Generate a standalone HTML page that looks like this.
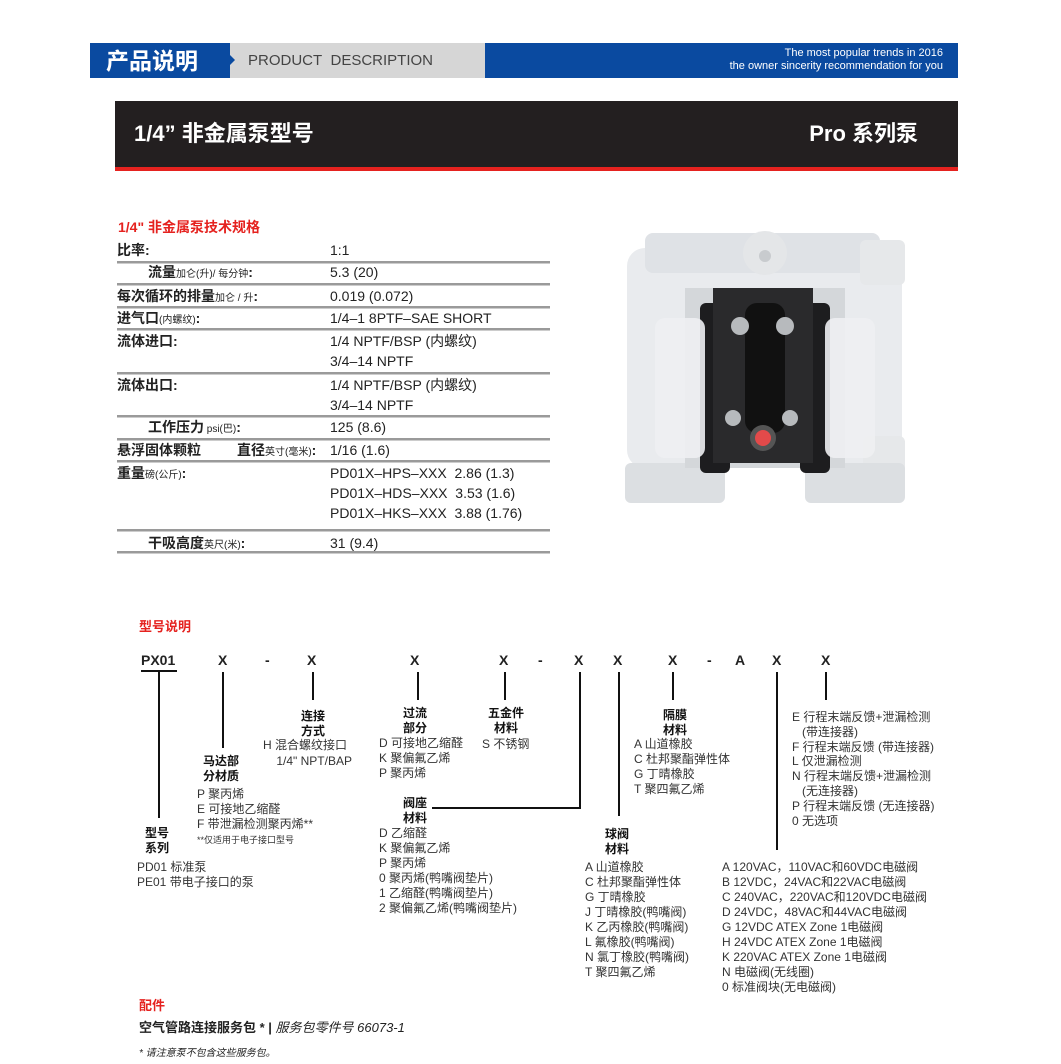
<!DOCTYPE html>
<html><head><meta charset="utf-8"><style>
*{margin:0;padding:0;box-sizing:border-box}
body{width:1061px;height:1064px;background:#fff;position:relative;overflow:hidden;font-family:"Liberation Sans","Noto Sans CJK SC",sans-serif;color:#222}
.a{position:absolute}
.t{position:absolute;white-space:nowrap;line-height:16px;font-size:12px;color:#333}
.b{font-weight:bold;color:#111}
.s{font-size:14px;color:#222}
.hl{position:absolute;left:117px;width:433px;height:3px;border-top:2px solid #9a9a9a;border-bottom:1px solid #ccc}
.v{position:absolute;width:2px;background:#111}
.x{position:absolute;font-size:14px;font-weight:bold;color:#222;line-height:16px}
.c{text-align:center;width:60px;font-size:12px;font-weight:bold;color:#111;line-height:15px}
small{font-size:10px;font-weight:normal}
</style></head><body>
<!-- header -->
<div class="a" style="left:90px;top:43px;width:140px;height:35px;background:#0a4aa0"></div>
<div class="t" style="left:106px;top:46px;line-height:30px;font-size:23px;font-weight:bold;color:#fff">产品说明</div>
<div class="a" style="left:230px;top:43px;width:255px;height:35px;background:#d6d6d6"></div>
<div class="a" style="left:230px;top:55px;width:0;height:0;border-top:5px solid transparent;border-bottom:5px solid transparent;border-left:5px solid #0a4aa0"></div>
<div class="t" style="left:248px;top:53px;font-size:15px;color:#444">PRODUCT&nbsp; DESCRIPTION</div>
<div class="a" style="left:485px;top:43px;width:473px;height:35px;background:#0a4aa0"></div>
<div class="t" style="right:118px;top:47px;font-size:11px;line-height:13px;color:#fff;text-align:right">The most popular trends in 2016<br>the owner sincerity recommendation for you</div>
<!-- title bar -->
<div class="a" style="left:115px;top:101px;width:843px;height:66px;background:#231f20"></div>
<div class="a" style="left:115px;top:167px;width:843px;height:4px;background:#e5221f"></div>
<div class="t" style="left:134px;top:120px;line-height:28px;font-size:22px;font-weight:bold;color:#fff">1/4” 非金属泵型号</div>
<div class="t" style="right:143px;top:120px;line-height:28px;font-size:22px;font-weight:bold;color:#fff">Pro 系列泵</div>
<!-- specs -->
<div class="t" style="left:118px;top:219px;font-size:14px;font-weight:bold;color:#e5221f">1/4" 非金属泵技术规格</div>
<div class="t s b" style="left:117px;top:242px">比率:</div><div class="t s" style="left:330px;top:242px">1:1</div>
<div class="hl" style="top:261px"></div>
<div class="t s b" style="left:148px;top:264px">流量<small>加仑(升)/ 每分钟</small>:</div><div class="t s" style="left:330px;top:264px">5.3 (20)</div>
<div class="hl" style="top:283px"></div>
<div class="t s b" style="left:117px;top:288px">每次循环的排量<small>加仑 / 升</small>:</div><div class="t s" style="left:330px;top:288px">0.019 (0.072)</div>
<div class="hl" style="top:306px"></div>
<div class="t s b" style="left:117px;top:310px">进气口<small>(内螺纹)</small>:</div><div class="t s" style="left:330px;top:310px">1/4–1 8PTF–SAE SHORT</div>
<div class="hl" style="top:328px"></div>
<div class="t s b" style="left:117px;top:333px">流体进口:</div><div class="t s" style="left:330px;top:333px;line-height:20px;top:331px">1/4 NPTF/BSP (内螺纹)<br>3/4–14 NPTF</div>
<div class="hl" style="top:372px"></div>
<div class="t s b" style="left:117px;top:377px">流体出口:</div><div class="t s" style="left:330px;line-height:20px;top:375px">1/4 NPTF/BSP (内螺纹)<br>3/4–14 NPTF</div>
<div class="hl" style="top:415px"></div>
<div class="t s b" style="left:148px;top:419px">工作压力<small> psi(巴)</small>:</div><div class="t s" style="left:330px;top:419px">125 (8.6)</div>
<div class="hl" style="top:438px"></div>
<div class="t s b" style="left:117px;top:442px">悬浮固体颗粒</div><div class="t s b" style="left:237px;top:442px">直径<small>英寸(毫米)</small>:</div><div class="t s" style="left:330px;top:442px">1/16 (1.6)</div>
<div class="hl" style="top:460px"></div>
<div class="t s b" style="left:117px;top:465px">重量<small>磅(公斤)</small>:</div><div class="t s" style="left:330px;top:463px;line-height:20px">PD01X–HPS–XXX&nbsp; 2.86 (1.3)<br>PD01X–HDS–XXX&nbsp; 3.53 (1.6)<br>PD01X–HKS–XXX&nbsp; 3.88 (1.76)</div>
<div class="hl" style="top:529px"></div>
<div class="t s b" style="left:148px;top:535px">干吸高度<small>英尺(米)</small>:</div><div class="t s" style="left:330px;top:535px">31 (9.4)</div>
<div class="hl" style="top:551px"></div>
<!-- pump image -->
<svg class="a" style="left:615px;top:228px" width="295" height="278" viewBox="0 0 295 278">
<rect x="12" y="20" width="275" height="220" rx="18" fill="#e9ebee"/>
<rect x="30" y="5" width="235" height="40" rx="8" fill="#dfe2e6"/>
<rect x="245" y="12" width="45" height="45" rx="6" fill="#e6e8ea"/>
<rect x="248" y="208" width="42" height="48" rx="6" fill="#e6e8ea"/>
<rect x="10" y="235" width="100" height="40" rx="6" fill="#dcdfe2"/>
<rect x="190" y="235" width="100" height="40" rx="6" fill="#dcdfe2"/>
<ellipse cx="150" cy="25" rx="22" ry="22" fill="#e4e6e8"/>
<circle cx="150" cy="28" r="6" fill="#c8cbce"/>
<rect x="70" y="60" width="160" height="180" fill="#d4d7da"/>
<rect x="85" y="75" width="30" height="170" rx="6" fill="#1d1d1f"/>
<rect x="185" y="75" width="30" height="170" rx="6" fill="#1d1d1f"/>
<rect x="98" y="60" width="100" height="175" fill="#2a2a2c"/>
<rect x="130" y="75" width="40" height="130" rx="12" fill="#111"/>
<circle cx="125" cy="98" r="9" fill="#b7babd"/><circle cx="170" cy="98" r="9" fill="#b7babd"/>
<circle cx="118" cy="190" r="8" fill="#b7babd"/><circle cx="175" cy="190" r="8" fill="#b7babd"/>
<circle cx="148" cy="210" r="13" fill="#555"/><circle cx="148" cy="210" r="8" fill="#e34a4a"/>
<rect x="40" y="90" width="50" height="140" rx="10" fill="#eef0f2" opacity=".9"/>
<rect x="210" y="90" width="50" height="140" rx="10" fill="#eef0f2" opacity=".9"/>
</svg>
<!-- model -->
<div class="t" style="left:139px;top:619px;font-size:13px;font-weight:bold;color:#e5221f">型号说明</div>
<div class="x" style="left:141px;top:652px">PX01</div>
<div class="a" style="left:141px;top:670px;width:36px;height:2px;background:#111"></div>
<div class="x" style="left:218px;top:652px">X</div>
<div class="x" style="left:265px;top:652px">-</div>
<div class="x" style="left:307px;top:652px">X</div>
<div class="x" style="left:410px;top:652px">X</div>
<div class="x" style="left:499px;top:652px">X</div>
<div class="x" style="left:538px;top:652px">-</div>
<div class="x" style="left:574px;top:652px">X</div>
<div class="x" style="left:613px;top:652px">X</div>
<div class="x" style="left:668px;top:652px">X</div>
<div class="x" style="left:707px;top:652px">-</div>
<div class="x" style="left:735px;top:652px">A</div>
<div class="x" style="left:772px;top:652px">X</div>
<div class="x" style="left:821px;top:652px">X</div>
<div class="v" style="left:158px;top:672px;height:146px"></div>
<div class="v" style="left:222px;top:672px;height:76px"></div>
<div class="v" style="left:312px;top:672px;height:28px"></div>
<div class="v" style="left:417px;top:672px;height:28px"></div>
<div class="v" style="left:504px;top:672px;height:28px"></div>
<div class="v" style="left:579px;top:672px;height:137px"></div>
<div class="a" style="left:432px;top:807px;width:149px;height:2px;background:#111"></div>
<div class="v" style="left:618px;top:672px;height:144px"></div>
<div class="v" style="left:672px;top:672px;height:28px"></div>
<div class="v" style="left:776px;top:672px;height:178px"></div>
<div class="v" style="left:825px;top:672px;height:28px"></div>
<div class="t c" style="left:283px;top:709px">连接<br>方式</div>
<div class="t" style="left:263px;top:737px">H 混合螺纹接口<br>&nbsp;&nbsp;&nbsp;&nbsp;1/4" NPT/BAP</div>
<div class="t c" style="left:191px;top:754px">马达部<br>分材质</div>
<div class="t" style="left:197px;top:787px;line-height:15px">P 聚丙烯<br>E 可接地乙缩醛<br>F 带泄漏检测聚丙烯**</div>
<div class="t" style="left:197px;top:833px;font-size:9px;line-height:14px">**仅适用于电子接口型号</div>
<div class="t c" style="left:127px;top:826px">型号<br>系列</div>
<div class="t" style="left:137px;top:860px;line-height:15px">PD01 标准泵<br>PE01 带电子接口的泵</div>
<div class="t c" style="left:385px;top:706px">过流<br>部分</div>
<div class="t" style="left:379px;top:736px;line-height:15px">D 可接地乙缩醛<br>K 聚偏氟乙烯<br>P 聚丙烯</div>
<div class="t c" style="left:476px;top:706px">五金件<br>材料</div>
<div class="t" style="left:482px;top:736px">S 不锈钢</div>
<div class="t c" style="left:385px;top:796px">阀座<br>材料</div>
<div class="t" style="left:379px;top:826px;line-height:15px">D 乙缩醛<br>K 聚偏氟乙烯<br>P 聚丙烯<br>0 聚丙烯(鸭嘴阀垫片)<br>1 乙缩醛(鸭嘴阀垫片)<br>2 聚偏氟乙烯(鸭嘴阀垫片)</div>
<div class="t c" style="left:645px;top:708px">隔膜<br>材料</div>
<div class="t" style="left:634px;top:737px;line-height:15px">A 山道橡胶<br>C 杜邦聚酯弹性体<br>G 丁晴橡胶<br>T 聚四氟乙烯</div>
<div class="t c" style="left:587px;top:827px">球阀<br>材料</div>
<div class="t" style="left:585px;top:860px;line-height:15px">A 山道橡胶<br>C 杜邦聚酯弹性体<br>G 丁晴橡胶<br>J 丁晴橡胶(鸭嘴阀)<br>K 乙丙橡胶(鸭嘴阀)<br>L 氟橡胶(鸭嘴阀)<br>N 氯丁橡胶(鸭嘴阀)<br>T 聚四氟乙烯</div>
<div class="t" style="left:792px;top:710px;line-height:14.8px">E 行程末端反馈+泄漏检测<br>&nbsp;&nbsp;&nbsp;(带连接器)<br>F 行程末端反馈 (带连接器)<br>L 仅泄漏检测<br>N 行程末端反馈+泄漏检测<br>&nbsp;&nbsp;&nbsp;(无连接器)<br>P 行程末端反馈 (无连接器)<br>0 无选项</div>
<div class="t" style="left:722px;top:860px;line-height:15px">A 120VAC，110VAC和60VDC电磁阀<br>B 12VDC，24VAC和22VAC电磁阀<br>C 240VAC，220VAC和120VDC电磁阀<br>D 24VDC，48VAC和44VAC电磁阀<br>G 12VDC ATEX Zone 1电磁阀<br>H 24VDC ATEX Zone 1电磁阀<br>K 220VAC ATEX Zone 1电磁阀<br>N 电磁阀(无线圈)<br>0 标准阀块(无电磁阀)</div>
<!-- accessories -->
<div class="t" style="left:139px;top:998px;font-size:13px;font-weight:bold;color:#e5221f">配件</div>
<div class="t" style="left:139px;top:1020px;font-size:13px;font-weight:bold;color:#222">空气管路连接服务包 * | <i style="font-weight:normal">服务包零件号 66073-1</i></div>
<div class="t" style="left:139px;top:1046px;font-size:10px;font-style:italic;color:#222">* 请注意泵不包含这些服务包。</div>
</body></html>
